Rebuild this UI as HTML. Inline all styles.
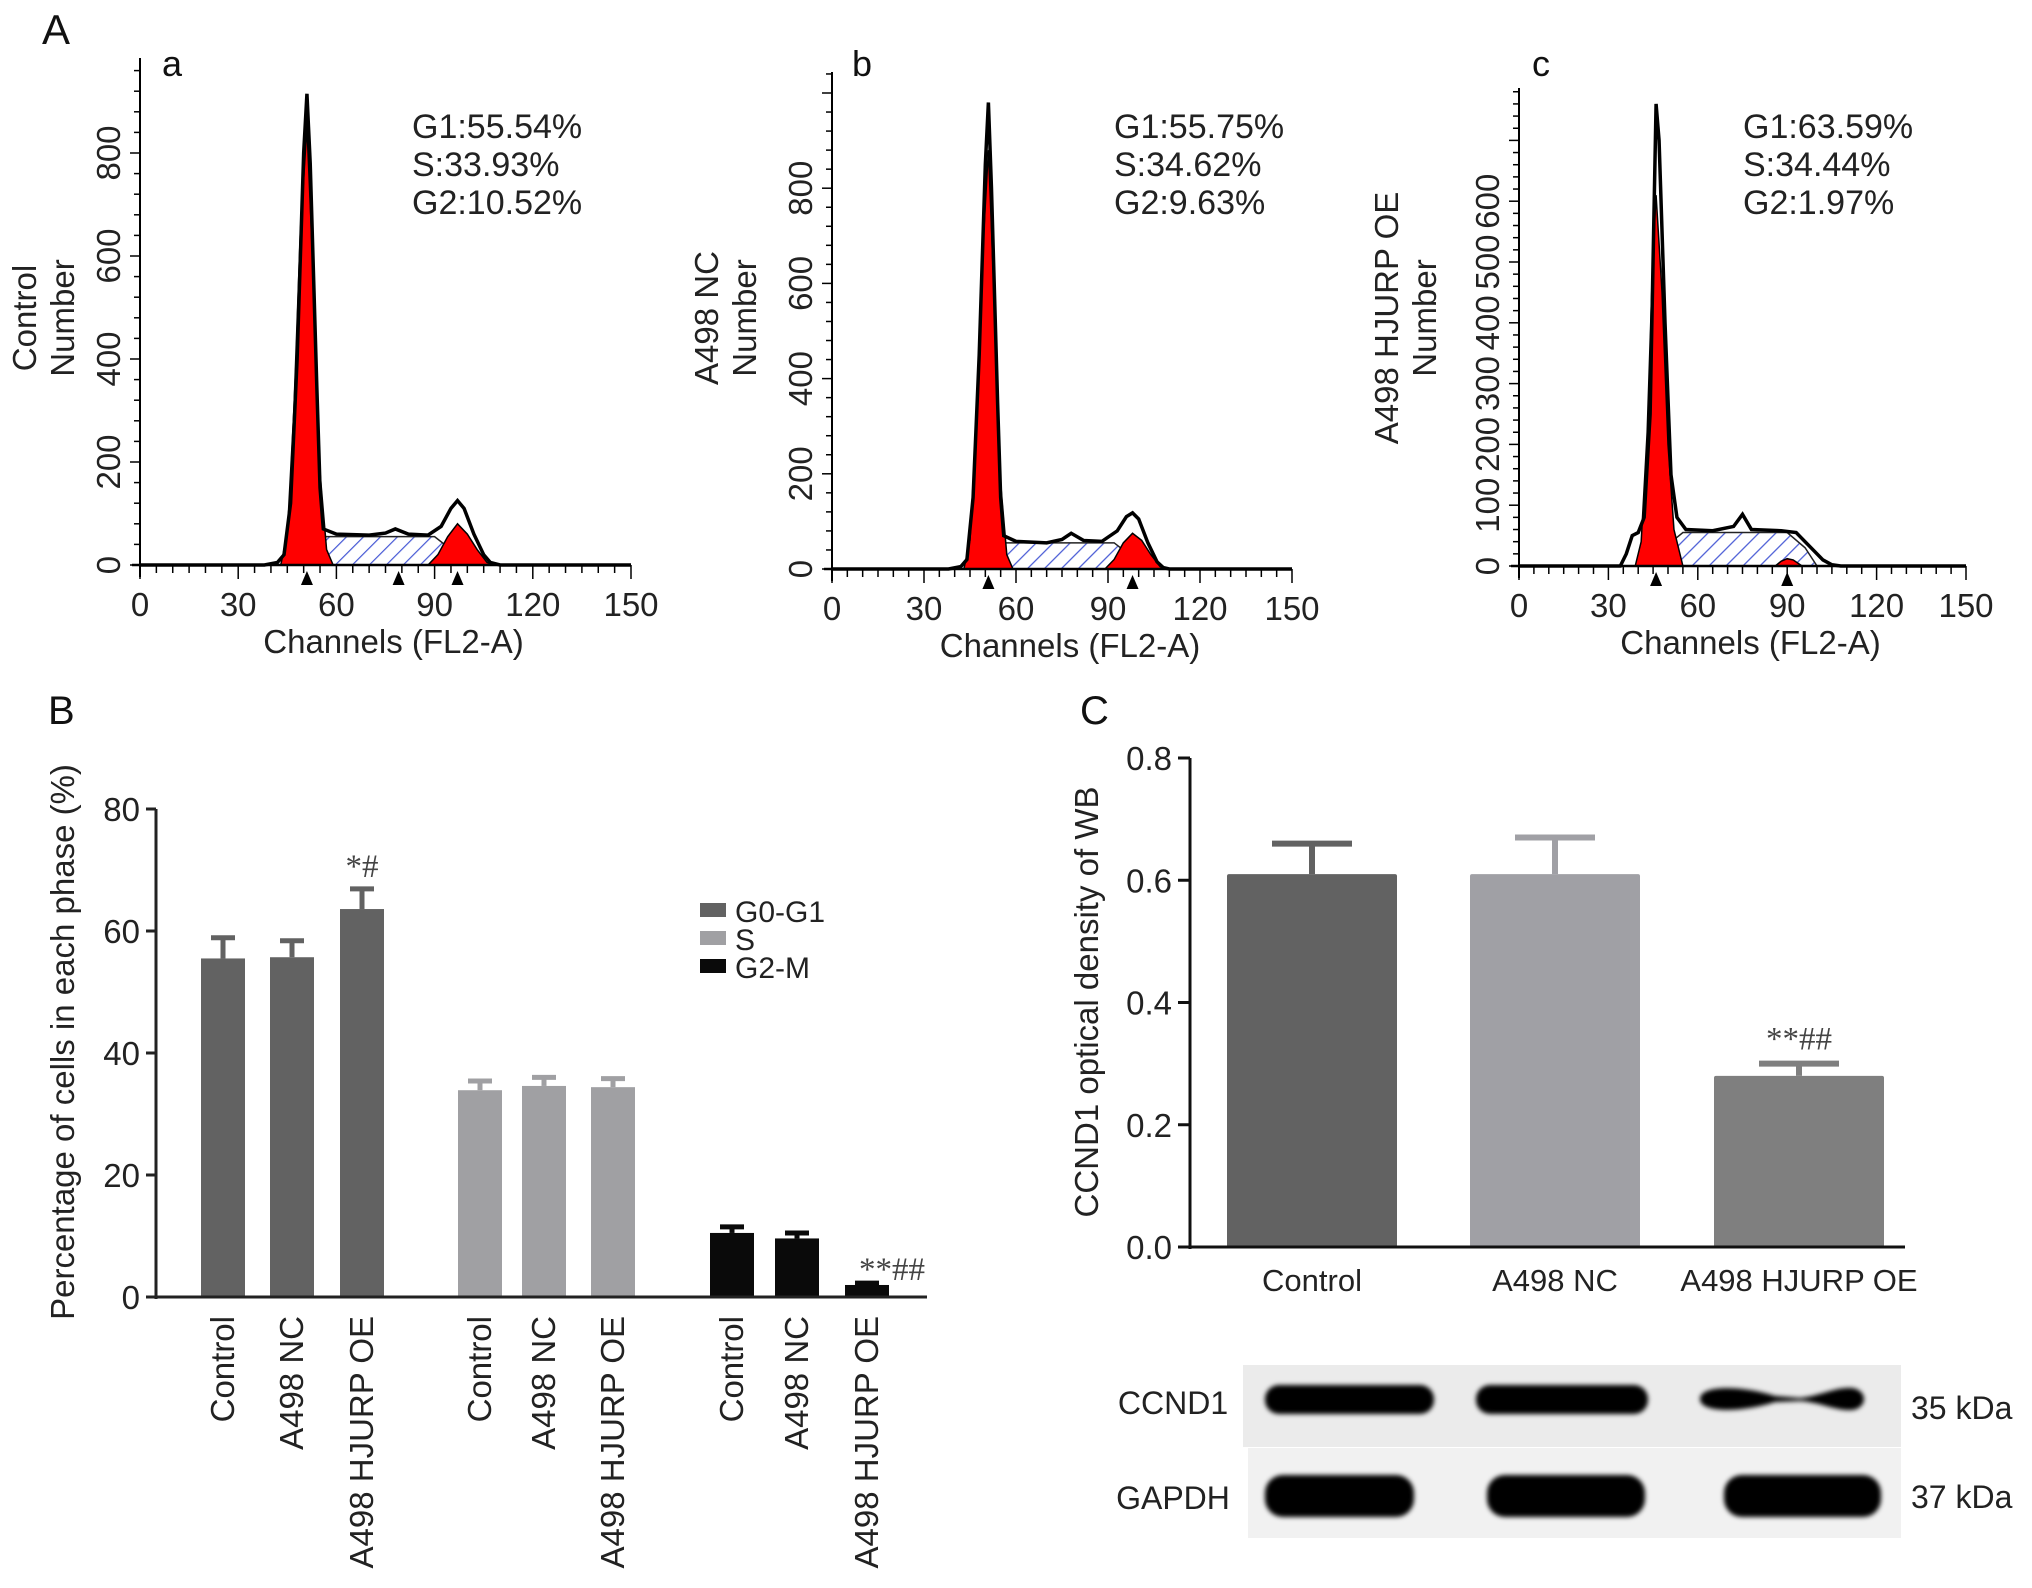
<!DOCTYPE html>
<html><head><meta charset="utf-8"><style>
html,body{margin:0;padding:0;background:#fff}
svg{display:block;font-family:"Liberation Sans",Arial,sans-serif}
</style></head><body>
<svg id="fig" width="2032" height="1588" viewBox="0 0 2032 1588" xmlns="http://www.w3.org/2000/svg">
<defs>
<pattern id="hatch" width="12" height="12" patternUnits="userSpaceOnUse" patternTransform="rotate(45)">
<rect width="12" height="12" fill="#fff"/><line x1="0" y1="0" x2="0" y2="12" stroke="#4a5cd6" stroke-width="2.5"/>
</pattern>
<filter id="blur"><feGaussianBlur stdDeviation="2.5"/></filter>
</defs>
<g id="root"></g>
</svg>
<script>
// ---------- Panel A histogram data ----------
const histA_outline = [[0,0],[38,0],[42,5],[44,20],[46,120],[48,400],[50,800],[51,915],[52,780],[54,350],[55,150],[56,70],[60,60],[70,58],[75,62],[78,70],[82,60],[88,58],[92,75],[95,110],[97,125],[99,110],[102,60],[105,20],[107,5],[110,0],[150,0]];
const histA_G1 = [[43,0],[45,60],[47,300],[49,650],[51,850],[53,550],[55,180],[57,30],[59,0]];
const histA_S = [[50,0],[53,30],[56,55],[90,55],[95,30],[98,0]];
const histA_G2 = [[88,0],[91,20],[94,55],[97,80],[100,60],[103,30],[106,5],[108,0]];
const histA_marks = [51,79,97];

const histB_outline = [[0,0],[38,0],[42,5],[44,20],[46,150],[48,450],[50,850],[51,980],[52,800],[54,350],[55,150],[56,70],[60,58],[70,55],[75,62],[78,75],[82,60],[88,58],[93,80],[96,110],[98,118],[100,105],[103,55],[106,15],[108,3],[110,0],[150,0]];
const histB_G1 = [[43,0],[45,60],[47,300],[49,650],[51,880],[53,550],[55,180],[57,30],[59,0]];
const histB_S = [[50,0],[53,30],[56,55],[92,55],[97,30],[100,0]];
const histB_G2 = [[89,0],[92,20],[95,55],[98,75],[101,60],[104,30],[107,5],[109,0]];
const histB_marks = [51,98];

const histC_outline = [[0,0],[34,0],[36,20],[38,50],[40,55],[42,80],[44,250],[46,760],[47,700],[49,400],[51,150],[53,80],[56,60],[65,58],[72,65],[75,85],[78,60],[88,58],[93,55],[96,40],[99,25],[102,10],[105,2],[108,0],[150,0]];
const histC_G1 = [[39,0],[41,40],[43,220],[45,520],[46,610],[48,450],[50,200],[52,60],[55,0]];
const histC_S = [[45,0],[50,35],[55,55],[90,55],[96,30],[100,0]];
const histC_G2 = [[86,0],[88,8],[90,12],[92,10],[95,0]];
const histC_marks = [46,90];

const histXTicks = [0,30,60,90,120,150];
const histAYTicks = [0,200,400,600,800];
const histCYTicks = [0,100,200,300,400,500,600];

// ---------- Panel B bar data ----------
const phaseGroups = ["G0-G1","S","G2-M"];
const groupNames = ["Control","A498 NC","A498 HJURP OE"];
const g1Vals = [55.5,55.7,63.6];
const g1Err = [3.4,2.7,3.3];
const sVals = [33.9,34.6,34.4];
const sErr = [1.5,1.4,1.4];
const g2Vals = [10.5,9.6,1.97];
const g2Err = [1.0,0.9,0.3];
const barBTicks = [0,20,40,60,80];

// ---------- Panel C bar data ----------
const ccndVals = [0.61,0.61,0.28];
const ccndErr = [0.05,0.06,0.02];
const barCTicks = [0.0,0.2,0.4,0.6,0.8];
const barCTickLabels = ["0.0","0.2","0.4","0.6","0.8"];

const NS="http://www.w3.org/2000/svg";
const root=document.getElementById('root');
function mk(tag,attrs,parent,text){const e=document.createElementNS(NS,tag);for(const k in attrs)e.setAttribute(k,attrs[k]);if(text!==undefined)e.textContent=text;(parent||root).appendChild(e);return e;}

// ---------- histograms ----------
function histPanel(o){
  const g=mk('g',{});
  
  
  const sx=v=>o.x0+(o.x1-o.x0)*v/150;
  const sy=v=>o.y0-v*o.k;
  const pts=a=>a.map(p=>sx(p[0])+','+sy(p[1])).join(' ');
  const s=mk('polygon',{points:pts(o.S),fill:'url(#hatch)',stroke:'#222','stroke-width':1.5},g);
  
  
  const g1=mk('polygon',{points:pts(o.G1),fill:'#ff0000',stroke:'#000','stroke-width':1.5},g);
  
  
  const g2=mk('polygon',{points:pts(o.G2),fill:'#ff0000',stroke:'#000','stroke-width':1.5},g);
  
  
  const ol=mk('polyline',{points:pts(o.outline),fill:'none',stroke:'#000','stroke-width':3.5},g);
  
  
  mk('line',{x1:o.x0,y1:o.yTop,x2:o.x0,y2:o.y0+12,stroke:'#000','stroke-width':2},g);
  mk('line',{x1:o.x0-8,y1:o.y0,x2:o.x1,y2:o.y0,stroke:'#000','stroke-width':2.5},g);
  for(let v=0;sy(v)>=o.yTop;v+=o.minor){const y=sy(v);mk('line',{x1:o.x0-(v%o.major===0?10:6),y1:y,x2:o.x0,y2:y,stroke:'#000','stroke-width':1.5},g);}
  o.yTicks.forEach(v=>{const t=mk('text',{x:o.x0-20,y:sy(v),'font-size':33,'text-anchor':'middle',transform:`rotate(-90 ${o.x0-20} ${sy(v)})`,fill:'#222'},g,String(v));});
  for(let v=0;v<=150;v+=5){const x=sx(v);mk('line',{x1:x,y1:o.y0,x2:x,y2:o.y0+(v%30===0?14:8),stroke:'#000','stroke-width':1.5},g);}
  histXTicks.forEach(v=>{const t=mk('text',{x:sx(v),y:o.y0+51,'font-size':33,'text-anchor':'middle',fill:'#222'},g,String(v));});
  o.marks.forEach(v=>{const x=sx(v);mk('polygon',{points:`${x-6},${o.y0+20} ${x+6},${o.y0+20} ${x},${o.y0+6}`,fill:'#000'},g);});
  const xt=mk('text',{x:(o.x0+o.x1)/2+8,y:o.y0+88,'font-size':33,'text-anchor':'middle',fill:'#222'},g,'Channels (FL2-A)');
  
  o.ytitles.forEach((s,i)=>{const x=o.ytx+i*38;const t=mk('text',{x:x,y:o.yty,'font-size':33,'text-anchor':'middle',transform:`rotate(-90 ${x} ${o.yty})`,fill:'#222'},g,s);});
  const lb=mk('text',{x:o.lx,y:76,'font-size':36,fill:'#111'},g,o.letter);
  o.stats.forEach((s,i)=>{const t=mk('text',{x:o.tx,y:138+i*38,'font-size':34,fill:'#222'},g,s);});
}
histPanel({name:'histogram-control',x0:140,x1:631,y0:565,k:0.515,yTop:58,minor:40,major:200,yTicks:histAYTicks,outline:histA_outline,G1:histA_G1,S:histA_S,G2:histA_G2,marks:histA_marks,ytitles:['Control','Number'],ytx:36,yty:318,lx:162,letter:'a',tx:412,stats:['G1:55.54%','S:33.93%','G2:10.52%']});
histPanel({name:'histogram-a498-nc',x0:832,x1:1292,y0:569,k:0.476,yTop:72,minor:40,major:200,yTicks:histAYTicks,outline:histB_outline,G1:histB_G1,S:histB_S,G2:histB_G2,marks:histB_marks,ytitles:['A498 NC','Number'],ytx:718,yty:318,lx:852,letter:'b',tx:1114,stats:['G1:55.75%','S:34.62%','G2:9.63%']});
histPanel({name:'histogram-a498-hjurp-oe',x0:1519,x1:1966,y0:566,k:0.608,yTop:88,minor:20,major:100,yTicks:histCYTicks,outline:histC_outline,G1:histC_G1,S:histC_S,G2:histC_G2,marks:histC_marks,ytitles:['A498 HJURP OE','Number'],ytx:1398,yty:318,lx:1532,letter:'c',tx:1743,stats:['G1:63.59%','S:34.44%','G2:1.97%']});
{const t=mk('text',{x:42,y:44,'font-size':42,fill:'#111'},root,'A');}

// ---------- Panel B ----------
{
  const g=mk('g',{});
  
  
  const ax=156,y0=1297,k=(1297-809)/80;
  const sy=v=>y0-v*k;
  const centers=[[223,292,362],[480,544,613],[732,797,867]];
  const colors=['#626262','#a0a0a3','#0a0a0a'];
  const vals=[g1Vals,sVals,g2Vals], errs=[g1Err,sErr,g2Err];
  const bw=44;
  vals.forEach((arr,gi)=>arr.forEach((v,i)=>{
    const cx=centers[gi][i];
    const ey=sy(v+errs[gi][i]);
    mk('line',{x1:cx,y1:sy(v),x2:cx,y2:ey,stroke:colors[gi],'stroke-width':5},g);
    mk('line',{x1:cx-12,y1:ey,x2:cx+12,y2:ey,stroke:colors[gi],'stroke-width':5},g);
    const b=mk('rect',{x:cx-bw/2,y:sy(v),width:bw,height:y0-sy(v),fill:colors[gi]},g);
    
    
    const lx=cx+11;
    const t=mk('text',{x:lx,y:1316,'font-size':33,'text-anchor':'end',transform:`rotate(-90 ${lx} 1316)`,fill:'#222'},g,groupNames[i]);
    
  }));
  mk('line',{x1:ax,y1:809,x2:ax,y2:y0+2,stroke:'#222','stroke-width':3},g);
  mk('line',{x1:ax-10,y1:y0,x2:927,y2:y0,stroke:'#222','stroke-width':3},g);
  barBTicks.forEach(v=>{mk('line',{x1:ax-10,y1:sy(v),x2:ax,y2:sy(v),stroke:'#222','stroke-width':3},g);
    const t=mk('text',{x:ax-16,y:sy(v)+12,'font-size':33,'text-anchor':'end',fill:'#222'},g,String(v));});
  const yt=mk('text',{x:74,y:1042,'font-size':33,'text-anchor':'middle',transform:'rotate(-90 74 1042)',fill:'#222'},g,'Percentage of cells in each phase (%)');
  
  const a1=mk('text',{x:362,y:sy(g1Vals[2]+g1Err[2])-12,'font-size':33,'text-anchor':'middle',fill:'#444','font-family':'Liberation Serif,serif'},g,'*#');
  const a2=mk('text',{x:892,y:1280,'font-size':33,'text-anchor':'middle',fill:'#444','font-family':'Liberation Serif,serif'},g,'**##');
  phaseGroups.forEach((p,i)=>{const ly=903+i*28;
    const r=mk('rect',{x:700,y:ly,width:26,height:14,fill:colors[i]},g);
    const t=mk('text',{x:735,y:ly+19,'font-size':30,fill:'#222'},g,p);});
  const lb=mk('text',{x:48,y:724,'font-size':40,fill:'#111'},g,'B');
}

// ---------- Panel C ----------
{
  const g=mk('g',{});
  
  
  const ax=1190,y0=1247,k=(1247-758)/0.8;
  const sy=v=>y0-v*k;
  const centers=[1312,1555,1799];
  const colors=['#626262','#a0a0a5','#7f7f7f'];
  const bw=170;
  ccndVals.forEach((v,i)=>{
    const cx=centers[i], ey=sy(v+ccndErr[i]);
    mk('line',{x1:cx,y1:sy(v),x2:cx,y2:ey,stroke:colors[i],'stroke-width':6},g);
    mk('line',{x1:cx-40,y1:ey,x2:cx+40,y2:ey,stroke:colors[i],'stroke-width':6},g);
    const b=mk('rect',{x:cx-bw/2,y:sy(v),width:bw,height:y0-sy(v),fill:colors[i],rx:2},g);
    
    
    const t=mk('text',{x:cx,y:1291,'font-size':31,'text-anchor':'middle',fill:'#222'},g,groupNames[i]);
    
  });
  mk('line',{x1:ax,y1:758,x2:ax,y2:y0+2,stroke:'#111','stroke-width':3},g);
  mk('line',{x1:ax-12,y1:y0,x2:1905,y2:y0,stroke:'#111','stroke-width':3},g);
  barCTicks.forEach((v,i)=>{mk('line',{x1:ax-12,y1:sy(v),x2:ax,y2:sy(v),stroke:'#111','stroke-width':3},g);
    const t=mk('text',{x:ax-18,y:sy(v)+12,'font-size':33,'text-anchor':'end',fill:'#222'},g,barCTickLabels[i]);});
  const yt=mk('text',{x:1098,y:1002,'font-size':33,'text-anchor':'middle',transform:'rotate(-90 1098 1002)',fill:'#222'},g,'CCND1 optical density of WB');
  
  const a=mk('text',{x:1799,y:sy(ccndVals[2]+ccndErr[2])-14,'font-size':33,'text-anchor':'middle',fill:'#444','font-family':'Liberation Serif,serif'},g,'**##');
  const lb=mk('text',{x:1080,y:724,'font-size':40,fill:'#111'},g,'C');
}

// ---------- Western blot ----------
{
  const g=mk('g',{});
  
  
  const b1=mk('rect',{x:1243,y:1365,width:658,height:82,fill:'#ebebeb'},g);
  const b2=mk('rect',{x:1248,y:1448,width:653,height:90,fill:'#f1f1f1'},g);
  const bands=mk('g',{filter:'url(#blur)'},g);
  [[1265,1434],[1476,1648]].forEach(p=>{const r=mk('rect',{x:p[0],y:1385,width:p[1]-p[0],height:29,rx:14,fill:'#050505'},bands);});
  const p3=mk('path',{d:'M1700,1399 C1700,1384 1745,1386 1775,1396 L1800,1398 C1820,1396 1835,1387 1852,1388 C1868,1390 1868,1408 1852,1410 C1835,1411 1820,1402 1800,1401 L1775,1402 C1745,1412 1700,1414 1700,1399 Z',fill:'#050505'},bands);
  
  [[1265,1414],[1487,1645],[1724,1881]].forEach(p=>{const r=mk('rect',{x:p[0],y:1475,width:p[1]-p[0],height:42,rx:18,fill:'#050505'},bands);});
  const l1=mk('text',{x:1173,y:1414,'font-size':32,'text-anchor':'middle',fill:'#222'},g,'CCND1');
  const l2=mk('text',{x:1173,y:1509,'font-size':32,'text-anchor':'middle',fill:'#222'},g,'GAPDH');
  const k1=mk('text',{x:1911,y:1419,'font-size':32,fill:'#222'},g,'35 kDa');
  const k2=mk('text',{x:1911,y:1508,'font-size':32,fill:'#222'},g,'37 kDa');
}
</script>
</body></html>
